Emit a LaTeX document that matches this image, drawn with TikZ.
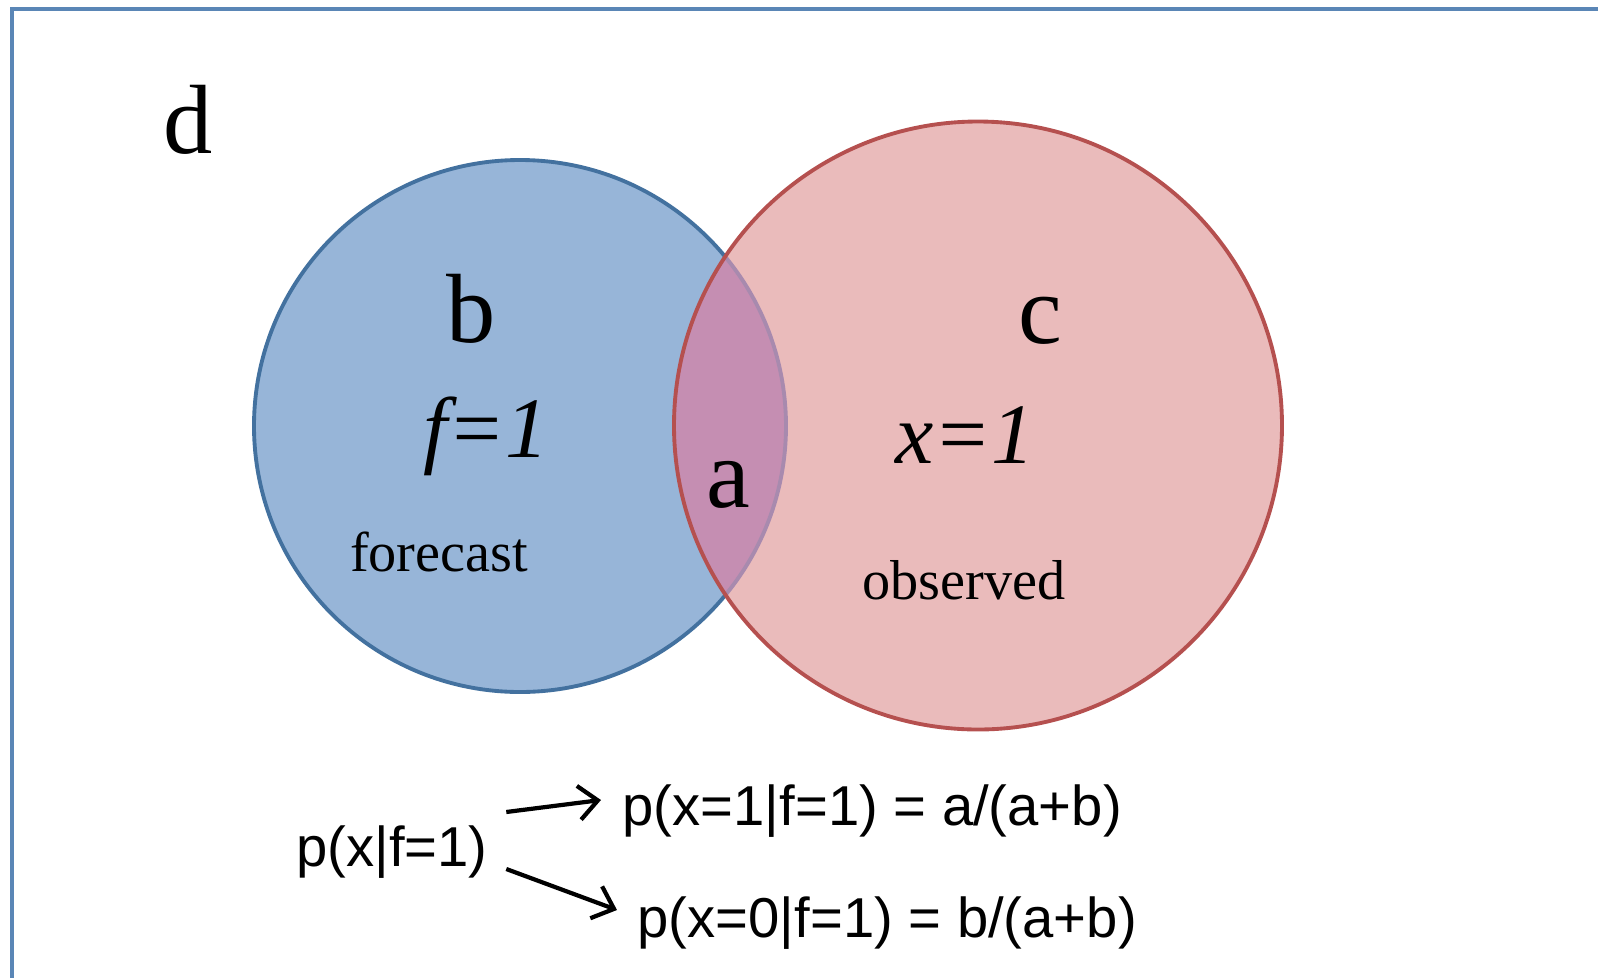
\documentclass[tikz,border=0pt]{standalone}
\usepackage{fontspec}
\setmainfont{Liberation Serif}
\newfontfamily\arialfont{Liberation Sans}
\usetikzlibrary{arrows.meta}
\definecolor{frameblue}{HTML}{5A86B6}
\definecolor{blueset}{HTML}{97B5D8}
\definecolor{blueedge}{HTML}{43719F}
\definecolor{redset}{HTML}{EABBBB}
\definecolor{rededge}{HTML}{B5504F}
\definecolor{lensfill}{HTML}{C58EB2}
\definecolor{lensedge}{HTML}{A88AAE}

\begin{document}
\begin{tikzpicture}[
      letter/.style={inner sep=0pt, anchor=base, font=\fontsize{28}{30}\selectfont},
      eqn/.style={inner sep=0pt, anchor=base, font=\fontsize{24.5}{26}\selectfont\itshape},
      word/.style={inner sep=0pt, anchor=base, font=\fontsize{16}{18}\selectfont},
      prob/.style={inner sep=0pt, font=\arialfont\fontsize{16}{18}\selectfont},
      arrow/.style={-{Straight Barb[length=1.9mm,width=3.4mm]}, line width=1.2pt}
    ]
    \useasboundingbox (0,0) rectangle (15.98,-9.78);
    \clip (0,0) rectangle (15.98,-9.78);
    \draw[frameblue, line width=1.1pt] (0.12,-0.09) rectangle (16.5,-10.5);

    % the two sets
    \fill[blueset] (5.20,-4.26) circle (2.66);
    \draw[blueedge, line width=1.1pt] (5.20,-4.26) circle (2.66);
    \fill[redset] (9.78,-4.255) circle (3.04);
    \begin{scope}
      \clip (5.20,-4.26) circle (2.66);
      \fill[lensfill] (9.78,-4.255) circle (3.04);
    \end{scope}
    \begin{scope}
      \clip (9.78,-4.255) circle (3.04);
      \draw[lensedge, line width=1.1pt] (5.20,-4.26) circle (2.66);
    \end{scope}
    \draw[rededge, line width=1.1pt] (9.78,-4.255) circle (3.04);

    \node[letter] (d) at (1.88,-1.53) {d};
    \node[letter] (b) at (4.71,-3.42) {b};
    \node[letter] (c) at (10.40,-3.43) {c};
    \node[letter] (a) at (7.28,-5.07) {a};
    \node[eqn] (feq) at (4.86,-4.57) {f=1};
    \node[eqn] (xeq) at (9.65,-4.63) {x=1};
    \node[word] (forecast) at (4.39,-5.71) {forecast};
    \node[word] (observed) at (9.64,-5.99) {observed};

    \node[prob, anchor=base] (pxf) at (3.92,-8.66) {p(x|f=1)};
    \node[prob, anchor=base west] (p1) at (6.22,-8.25) {p(x=1|f=1) = a/(a+b)};
    \node[prob, anchor=base west] (p0) at (6.37,-9.37) {p(x=0|f=1) = b/(a+b)};

    \draw[arrow] ([shift={(0.18,0.54)}]pxf.base east) -- ([shift={(-0.21,0.25)}]p1.base west);
    \draw[arrow] ([shift={(0.18,-0.03)}]pxf.base east) -- ([shift={(-0.20,0.27)}]p0.base west);
  \end{tikzpicture}
\end{document}
